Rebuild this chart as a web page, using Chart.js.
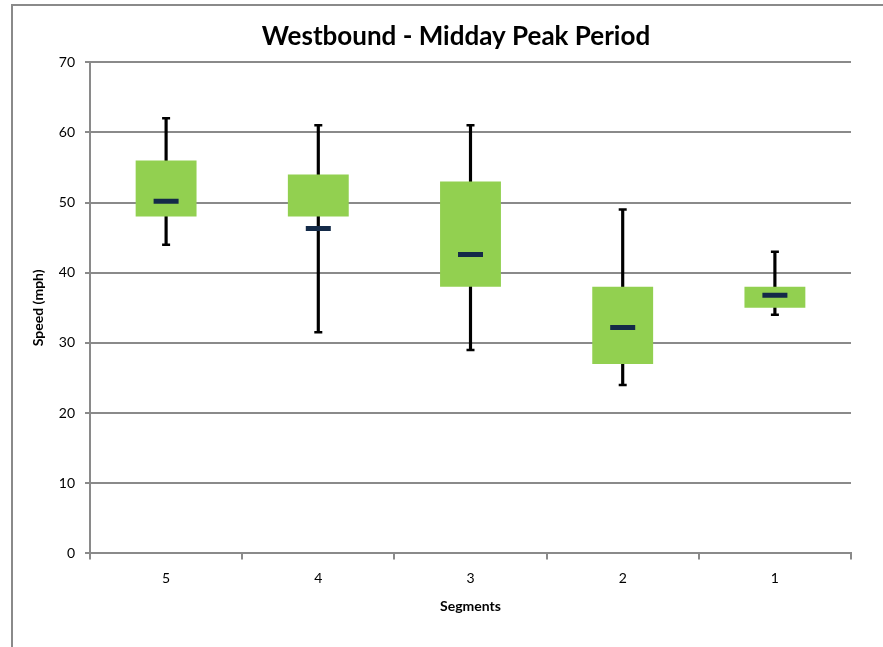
<!DOCTYPE html>
<html>
<head>
<meta charset="utf-8">
<script src="https://cdn.jsdelivr.net/npm/chart.js@4.4.0/dist/chart.umd.min.js"></script>
<style>
  html, body { margin: 0; padding: 0; background: #ffffff; width: 883px; height: 647px; overflow: hidden; }
  #frame { position: absolute; left: 11px; top: 4px; width: 1000px; height: 1000px; border-left: 2px solid #8a8a8a; border-top: 2px solid #8a8a8a; }
  #c { position: absolute; left: 0; top: 0; }
</style>
</head>
<body>
<div id="frame"></div>
<canvas id="c" width="883" height="647"></canvas>
<script>
const categories = ['5', '4', '3', '2', '1'];
const q1Values   = [48, 48, 38, 27, 35];
const q3Values   = [56, 54, 53, 38, 38];
const lowValues  = [44, 31.5, 29, 24, 34];
const highValues = [62, 61, 61, 49, 43];
const meanValues = [50.2, 46.3, 42.6, 32.2, 36.8];
const yTicks = [0, 10, 20, 30, 40, 50, 60, 70];

const FONT = 'Lato, "Open Sans", sans-serif';

const titleShift = {
  id: 'titleShift',
  afterLayout(chart) {
    if (chart.titleBlock) chart.titleBlock.left = 61;
  }
};

new Chart(document.getElementById('c'), {
  type: 'bar',
  data: {
    labels: categories,
    datasets: [
      {
        type: 'line',
        label: 'Mean',
        data: meanValues,
        showLine: false,
        pointStyle: 'line',
        pointRadius: 12.5,
        pointHoverRadius: 12.5,
        borderColor: '#142a48',
        pointBorderColor: '#142a48',
        pointBorderWidth: 5,
        borderWidth: 5,
        order: 0
      },
      {
        type: 'line',
        label: 'High',
        data: highValues,
        showLine: false,
        pointStyle: 'line',
        pointRadius: 4,
        pointHoverRadius: 4,
        borderColor: '#000000',
        pointBorderColor: '#000000',
        pointBorderWidth: 2.5,
        borderWidth: 2.5,
        order: 1
      },
      {
        type: 'line',
        label: 'Low',
        data: lowValues,
        showLine: false,
        pointStyle: 'line',
        pointRadius: 4,
        pointHoverRadius: 4,
        borderColor: '#000000',
        pointBorderColor: '#000000',
        pointBorderWidth: 2.5,
        borderWidth: 2.5,
        order: 1
      },
      {
        label: 'Box',
        data: categories.map((c, i) => [q1Values[i], q3Values[i]]),
        backgroundColor: '#92d050',
        borderWidth: 0,
        grouped: false,
        categoryPercentage: 1,
        barPercentage: 0.4,
        order: 2
      },
      {
        label: 'Whisker',
        data: categories.map((c, i) => [lowValues[i], highValues[i]]),
        backgroundColor: '#000000',
        borderWidth: 0,
        grouped: false,
        barThickness: 2.5,
        order: 3
      }
    ]
  },
  plugins: [titleShift],
  options: {
    responsive: false,
    animation: false,
    layout: { padding: { left: 26, right: 32, top: 0, bottom: 29 } },
    plugins: {
      legend: { display: false },
      tooltip: { enabled: false },
      title: {
        display: true,
        text: 'Westbound - Midday Peak Period',
        color: '#000000',
        font: { family: FONT, size: 26, weight: 'bold' },
        padding: { top: 21.5, bottom: 9.5 }
      }
    },
    scales: {
      x: {
        type: 'category',
        offset: true,
        grid: { offset: true, drawOnChartArea: false, drawTicks: true, tickLength: 6, color: '#8a8a8a', lineWidth: 2 },
        border: { color: '#8a8a8a', width: 2 },
        ticks: { color: '#000000', font: { family: FONT, size: 14 }, padding: 11 },
        title: { display: true, text: 'Segments', color: '#000000', font: { family: FONT, size: 14, weight: 'bold' }, padding: { top: 0, bottom: 3 } }
      },
      y: {
        min: 0,
        max: 70,
        afterBuildTicks: (scale) => { scale.ticks = yTicks.map(v => ({ value: v })); },
        afterFit: (scale) => { scale.width = 64; },
        grid: { color: '#8a8a8a', lineWidth: 2, tickLength: 5 },
        border: { color: '#8a8a8a', width: 2 },
        ticks: { color: '#000000', font: { family: FONT, size: 14 }, padding: 10 },
        title: { display: true, text: 'Speed (mph)', color: '#000000', font: { family: FONT, size: 14, weight: 'bold' }, padding: { top: 4, bottom: 4 } }
      }
    }
  }
});
</script>
</body>
</html>
